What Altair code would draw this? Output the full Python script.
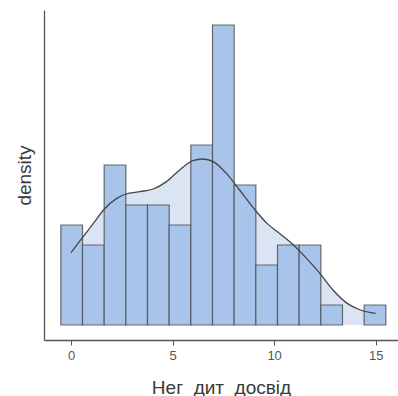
import altair as alt
import numpy as np
import pandas as pd

# Histogram: 15 bins spanning -0.5 .. 15.5
bin_edges = np.linspace(-0.5, 15.5, 16)
counts = [5, 4, 8, 6, 6, 5, 9, 15, 7, 3, 4, 4, 1, 0, 1]

# KDE curve (in count units)
kde_x = [0.0, 0.6, 1.1, 1.6, 2.25, 2.7, 3.4, 4.05, 4.7, 5.35, 6.0, 6.5, 7.0,
         7.65, 8.3, 9.0, 9.65, 10.3, 10.95, 11.6, 12.25, 12.9, 13.6, 14.25, 15.0]
kde_y = [3.62, 4.42, 5.08, 5.75, 6.33, 6.55, 6.67, 6.8, 7.17, 7.75, 8.22, 8.3, 8.17,
         7.58, 6.75, 5.83, 5.08, 4.55, 4.0, 3.33, 2.58, 1.75, 1.08, 0.75, 0.58]

bars = pd.DataFrame({
    "start": bin_edges[:-1],
    "end": bin_edges[1:],
    "count": counts,
})
bars = bars[bars["count"] > 0]
kde = pd.DataFrame({"x": kde_x, "y": kde_y})

xscale = alt.Scale(domain=[-1.33, 16.1], nice=False, zero=False)
yscale = alt.Scale(domain=[-0.75, 15.75], nice=False, zero=False)

xaxis = alt.Axis(values=[0, 5, 10, 15], title="Нег_дит_досвід", grid=False)
yaxis = alt.Axis(ticks=False, labels=False, title="density", grid=False)

area = alt.Chart(kde).mark_area(color="#dbe4f3", opacity=1).encode(
    x=alt.X("x:Q", scale=xscale, axis=xaxis),
    y=alt.Y("y:Q", scale=yscale, axis=yaxis),
    y2=alt.Y2(datum=0),
)

rect = alt.Chart(bars).mark_rect(
    fill="#a9c4eb", stroke="#4f5358", strokeWidth=1.2, strokeOpacity=0.85
).encode(
    x=alt.X("start:Q", scale=xscale),
    x2="end:Q",
    y=alt.Y("count:Q", scale=yscale),
    y2=alt.Y2(datum=0),
)

line = alt.Chart(kde).mark_line(color="#464646", strokeWidth=1.3, interpolate="monotone").encode(
    x=alt.X("x:Q", scale=xscale),
    y=alt.Y("y:Q", scale=yscale),
)

chart = alt.layer(area, rect, line).properties(
    width=354,
    height=330,
    autosize=alt.AutoSizeParams(type="none"),
    padding={"left": 44, "top": 10, "right": 0, "bottom": 56},
).configure_view(stroke=None).configure_axis(
    domainColor="#555555",
    domainWidth=1.3,
    tickColor="#555555",
    tickSize=5,
    labelFont="Liberation Sans",
    labelFontSize=13,
    labelColor="#555555",
    labelPadding=4,
    titleFont="Liberation Sans",
    titleFontSize=19,
    titleFontWeight="normal",
    titleColor="#3a3a3a",
).configure_axisX(titlePadding=16).configure_axisY(titlePadding=10)

chart.save("out.html", embed_options={"renderer": "svg", "actions": False})
